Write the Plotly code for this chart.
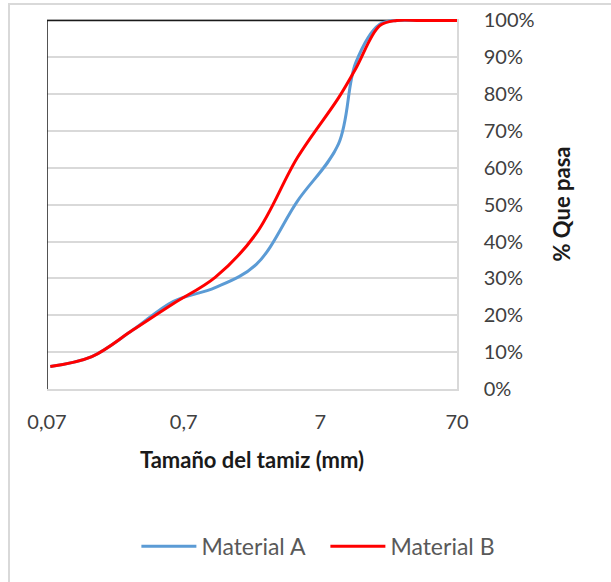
import math
import plotly.graph_objects as go

# Sieve sizes (mm)
sieve_mm = [0.074, 0.149, 0.297, 0.59, 1.19, 2.38, 4.76, 9.51, 12.7, 19.05, 25.4, 38.1, 76.2]
# % passing
material_a = [6.1, 8.8, 16.0, 23.8, 27.5, 33.8, 51.0, 66.5, 88.5, 99.0, 100, 100, 100]
material_b = [6.1, 8.8, 16.0, 23.2, 30.3, 42.2, 62.8, 79.0, 86.9, 98.6, 100, 100, 100]

x_tickvals = [0.07, 0.7, 7, 70]
x_ticktext = ["0,07", "0,7", "7", "70"]
y_tickvals = [0, 10, 20, 30, 40, 50, 60, 70, 80, 90, 100]
y_ticktext = [f"{v}%" for v in y_tickvals]

FONT = "Lato"

fig = go.Figure()
fig.add_trace(go.Scatter(x=sieve_mm, y=material_a, mode="lines", name="Material A",
                         line=dict(color="#5b9bd5", width=3, shape="spline", smoothing=1)))
fig.add_trace(go.Scatter(x=sieve_mm, y=material_b, mode="lines", name="Material B",
                         line=dict(color="#ff0000", width=3, shape="spline", smoothing=1)))

xmin, xmax = math.log10(0.07), math.log10(70)

fig.update_layout(
    width=611, height=582,
    margin=dict(l=47, r=154, t=19, b=193),
    paper_bgcolor="white", plot_bgcolor="white",
    font=dict(family=FONT, size=20, color="#404040"),
    showlegend=True,
    legend=dict(orientation="h", x=0.679, xanchor="center", y=-0.425, yanchor="middle",
                font=dict(family=FONT, size=23, color="#595959"), itemwidth=55,
                entrywidth=119, entrywidthmode="pixels", tracegroupgap=0),
    xaxis=dict(type="log", range=[xmin, xmax], tickvals=x_tickvals, ticktext=x_ticktext,
               showgrid=False, zeroline=False, showline=True, linecolor="#d9d9d9", linewidth=1.5,
               ticks="", ticklabelstandoff=14, automargin=False,
               tickfont=dict(family=FONT, size=20, color="#404040"),
               title=dict(text="Tamaño del tamiz (mm)", standoff=21,
                          font=dict(family=FONT, size=22, color="#1a1a1a", weight="bold"))),
    yaxis=dict(side="right", range=[0, 100.4], tickvals=y_tickvals, ticktext=y_ticktext,
               showgrid=True, gridcolor="#d9d9d9", gridwidth=1.5, zeroline=False,
               showline=True, linecolor="#d9d9d9", linewidth=1.5, ticks="",
               ticklabelstandoff=21, automargin=False,
               tickfont=dict(family=FONT, size=20, color="#404040"),
               title=dict(text="% Que pasa", standoff=21,
                          font=dict(family=FONT, size=22, color="#1a1a1a", weight="bold"))),
    shapes=[
        # left and top black plot border
        dict(type="line", xref="x", yref="y", x0=0.07, x1=0.07, y0=0, y1=100,
             line=dict(color="#1a1a1a", width=1.5), layer="between"),
        dict(type="line", xref="x", yref="y", x0=0.07, x1=70, y0=100, y1=100,
             line=dict(color="#1a1a1a", width=1.5), layer="between"),
        # outer chart border
        dict(type="rect", xref="paper", yref="paper",
             x0=(9 - 47) / 410, x1=(640 - 47) / 410,
             y0=(389 - 600) / 369, y1=(389 - 5) / 369,
             line=dict(color="#d9d9d9", width=2), fillcolor="rgba(0,0,0,0)", layer="below"),
    ],
)

fig.write_html("out.html", config={"displayModeBar": False},
               post_script="document.body.style.margin='0';")
